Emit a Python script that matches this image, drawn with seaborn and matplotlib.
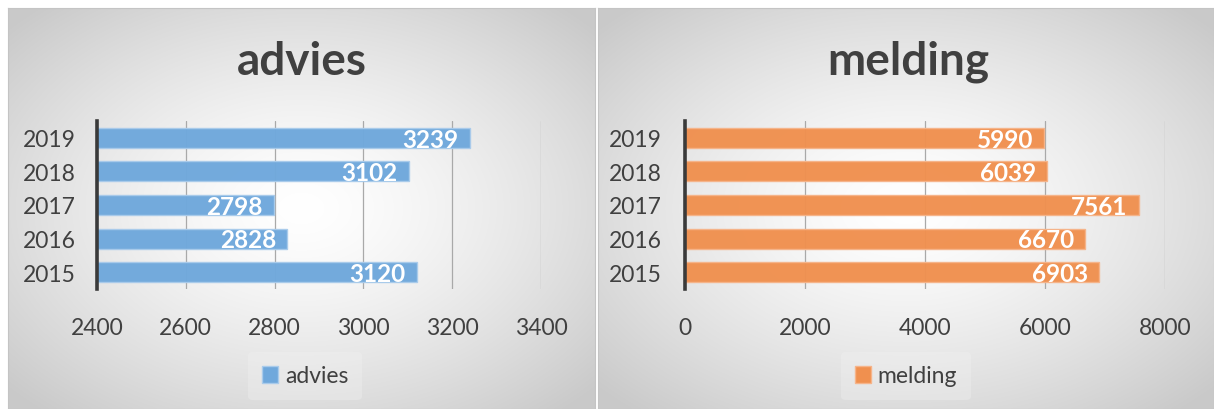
import numpy as np
import pandas as pd
import seaborn as sns
import matplotlib.pyplot as plt
from matplotlib.patches import Patch

# data
years = ['2019', '2018', '2017', '2016', '2015']
advies = [3239, 3102, 2798, 2828, 3120]
melding = [5990, 6039, 7561, 6670, 6903]

sns.set_theme(style='white')
plt.rcParams['font.family'] = ['Lato', 'DejaVu Sans']

W, H = 1214, 410
fig = plt.figure(figsize=(W / 100, H / 100), dpi=100)
fig.patch.set_facecolor('white')


def panel_background(x0, x1, y0, y1):
    # radial grey-to-white gradient like the office chart area
    bg = fig.add_axes([x0 / W, 1 - y1 / H, (x1 - x0) / W, (y1 - y0) / H], zorder=0)
    gx, gy = np.meshgrid(np.linspace(-1, 1, 300), np.linspace(-1, 1, 200))
    r = np.clip(np.sqrt(gx ** 2 + gy ** 2) / 1.35, 0, 1)
    v = 1.0 - 0.21 * r ** 1.4
    img = np.dstack([v, v, v])
    bg.imshow(img, extent=(0, 1, 0, 1), aspect='auto', interpolation='bilinear')
    bg.set_xlim(0, 1)
    bg.set_ylim(0, 1)
    bg.set_xticks([])
    bg.set_yticks([])
    for s in bg.spines.values():
        s.set_color('#c4c4c4')
        s.set_linewidth(0.8)


def draw(name, values, color, edge, rect, xlim, xticks, title_x, legend_x, ypad):
    df = pd.DataFrame({'year': years, 'value': values, 'serie': name})
    ax = fig.add_axes(rect, zorder=2)
    ax.patch.set_alpha(0)
    sns.barplot(data=df, x='value', y='year', hue='serie', order=years,
                palette=[color], saturation=1, width=0.6, edgecolor=edge,
                linewidth=1.0, alpha=0.97, legend=False, ax=ax)
    ax.set_xlim(*xlim)
    ax.set_xticks(xticks)
    ax.set_xlabel('')
    ax.set_ylabel('')
    ax.grid(axis='x', color='#a9a9a9', linewidth=0.9)
    ax.set_axisbelow(True)
    for s in ['top', 'right', 'bottom']:
        ax.spines[s].set_visible(False)
    ax.spines['left'].set_color('#3a3a3a')
    ax.spines['left'].set_linewidth(2.6)
    ax.tick_params(axis='x', length=0, pad=20, labelsize=16.5, labelcolor='#404040')
    ax.tick_params(axis='y', length=0, pad=ypad, labelsize=16.5, labelcolor='#404040')

    for p in ax.patches:
        w = p.get_x() + p.get_width()
        ax.annotate(f'{int(round(w))}', (w, p.get_y() + p.get_height() / 2),
                    xytext=(-8, -1), textcoords='offset points', ha='right',
                    va='center', color='white', fontsize=17.5, fontweight='bold')

    fig.text(title_x / W, 1 - 62 / H, name, ha='center', va='center',
             fontsize=33, fontweight='bold', color='#404040')
    fig.legend(handles=[Patch(facecolor=color, edgecolor=edge, label=name)],
               loc='center', bbox_to_anchor=(legend_x / W, 1 - 377 / H),
               frameon=True, facecolor='#f2f2f2', edgecolor='none', framealpha=0.35,
               fontsize=16.5, labelcolor='#404040', handlelength=0.7, handleheight=0.7,
               handletextpad=0.3, borderpad=0.6)
    return ax


panel_background(8, 595, 9, 410)
panel_background(598, 1214, 9, 410)

draw('advies', advies, '#6fa8dc', '#a9cbeb',
     [97 / W, 1 - 290 / H, (541 - 97) / W, 168 / H],
     (2400, 3400), [2400, 2600, 2800, 3000, 3200, 3400], 302, 305, 15)
draw('melding', melding, '#f0904f', '#f6b48a',
     [685 / W, 1 - 290 / H, (1165 - 685) / W, 168 / H],
     (0, 8000), [0, 2000, 4000, 6000, 8000], 908, 906, 17)

fig.savefig('out.png', dpi=100)
